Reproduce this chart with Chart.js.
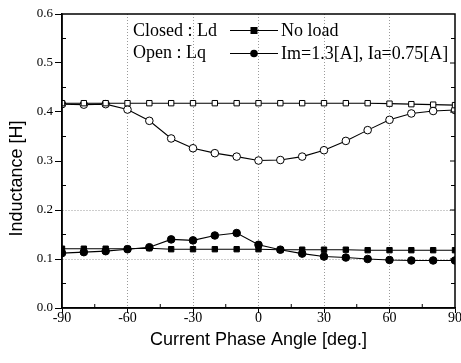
<!DOCTYPE html>
<html><head><meta charset="utf-8">
<script src="https://cdn.jsdelivr.net/npm/chart.js@4/dist/chart.umd.min.js"></script>
<style>html,body{margin:0;padding:0;background:#fff}</style>
</head><body>
<canvas id="c" width="461" height="363"></canvas>
<script>
// Current phase angle [deg.]
const angles = [-90,-80,-70,-60,-50,-40,-30,-20,-10,0,10,20,30,40,50,60,70,80,90];
// Ld (closed markers)
const ldNoLoad = [0.121,0.121,0.121,0.121,0.122,0.120,0.120,0.120,0.120,0.120,0.119,0.119,0.119,0.119,0.118,0.118,0.118,0.118,0.118];
const ldLoad   = [0.112,0.114,0.116,0.120,0.124,0.140,0.138,0.148,0.153,0.129,0.119,0.111,0.105,0.103,0.100,0.098,0.097,0.097,0.097];
// Lq (open markers)
const lqNoLoad = [0.418,0.418,0.418,0.418,0.418,0.418,0.418,0.418,0.418,0.418,0.418,0.418,0.418,0.418,0.418,0.417,0.416,0.415,0.414];
const lqLoad   = [0.416,0.415,0.416,0.405,0.382,0.346,0.326,0.316,0.309,0.301,0.302,0.309,0.322,0.341,0.363,0.384,0.397,0.402,0.404];
const xTicks = [-90,-60,-30,0,30,60,90];
const yTicks = [0.0,0.1,0.2,0.3,0.4,0.5,0.6];
const xGridAt = [-60,-30,0,30,60];
const yGridAt = [0.1,0.2];
const legendLabels = ['No load','Im=1.3[A], Ia=0.75[A]'];
const legendGroups = ['Closed : Ld','Open : Lq'];

const pts = arr => angles.map((a,i)=>({x:a,y:arr[i]}));
function ds(label, arr, style, filled){
  return {label, data: pts(arr), borderColor:'#000', borderWidth:1.1, tension:0,
    pointStyle: style, pointRadius: 3.8, pointBorderWidth:1,
    pointBorderColor:'#000', pointBackgroundColor: filled?'#000':'#fff', fill:false};
}

const deco = {
  id:'deco',
  afterDraw(chart){
    const ctx = chart.ctx, a = chart.chartArea, xs = chart.scales.x, ys = chart.scales.y;
    ctx.save();
    ctx.strokeStyle = '#000'; ctx.lineWidth = 1.5;
    ctx.strokeRect(a.left, a.top, a.right-a.left, a.bottom-a.top);
    ctx.lineWidth = 1;
    ctx.beginPath();
    for (let v=-75; v<90; v+=30){ const p = xs.getPixelForValue(v); ctx.moveTo(p,a.bottom); ctx.lineTo(p,a.bottom-4); }
    for (let k=1;k<12;k+=2){ const v=k*0.05; const p = ys.getPixelForValue(v);
      ctx.moveTo(a.left,p); ctx.lineTo(a.left+4,p); ctx.moveTo(a.right,p); ctx.lineTo(a.right-4,p); }
    for (let k=1;k<6;k++){ const p = ys.getPixelForValue(k*0.1); ctx.moveTo(a.right,p); ctx.lineTo(a.right-5,p); }
    ctx.stroke();
    // legend
    ctx.fillStyle = '#000';
    ctx.font = '18px "Liberation Serif"';
    ctx.textBaseline = 'alphabetic';
    ctx.fillText(legendGroups[0], 133, 35.5);
    ctx.fillText(legendGroups[1], 133, 58);
    ctx.fillText(legendLabels[0], 281, 36);
    ctx.fillText(legendLabels[1], 281, 59);
    ctx.lineWidth = 1;
    ctx.beginPath(); ctx.moveTo(230,30.5); ctx.lineTo(278,30.5); ctx.moveTo(230,53.5); ctx.lineTo(278,53.5); ctx.stroke();
    ctx.fillRect(250.5,27,7,7);
    ctx.beginPath(); ctx.arc(254,53.5,3.8,0,Math.PI*2); ctx.fill();
    ctx.restore();
  }
};

new Chart(document.getElementById('c'), {
  type:'line',
  data:{ datasets:[
    ds('Ld No load', ldNoLoad, 'rect', true),
    ds('Ld Im=1.3[A], Ia=0.75[A]', ldLoad, 'circle', true),
    ds('Lq No load', lqNoLoad, 'rect', false),
    ds('Lq Im=1.3[A], Ia=0.75[A]', lqLoad, 'circle', false)
  ]},
  options:{
    responsive:false, animation:false, devicePixelRatio:1,
    layout:{padding:{top:14,right:6,left:0,bottom:0}},
    plugins:{legend:{display:false}, tooltip:{enabled:false}},
    scales:{
      x:{type:'linear', min:-90, max:90,
        afterBuildTicks(s){ s.ticks = xTicks.map(v=>({value:v})); },
        afterFit(s){ s.height = 55; s.paddingLeft = 0; s.paddingRight = 0; },
        ticks:{color:'#000', font:{family:'"Liberation Serif"', size:14}, padding:-3, maxRotation:0, autoSkip:false},
        grid:{color:c=> xGridAt.includes(c.tick && c.tick.value) ? '#9a9a9a' : 'rgba(0,0,0,0)', tickColor:'#000', tickLength:5, lineWidth:1},
        border:{color:'#000', width:1.5, dash:[1,2]},
        title:{display:true, text:'Current Phase Angle [deg.]', color:'#000', font:{family:'"Liberation Sans"', size:18}, padding:{top:0,bottom:12}}
      },
      y:{type:'linear', min:0, max:0.6,
        afterBuildTicks(s){ s.ticks = yTicks.map(v=>({value:v})); },
        afterFit(s){ s.width = 62; s.paddingTop = 0; s.paddingBottom = 0; },
        ticks:{color:'#000', font:{family:'"Liberation Serif"', size:13}, padding:2, callback:v=>Number(v).toFixed(1)},
        grid:{color:c=> yGridAt.some(g=>Math.abs(g-(c.tick?c.tick.value:-1))<1e-9) ? '#9a9a9a' : 'rgba(0,0,0,0)', tickColor:'#000', tickLength:7, lineWidth:1},
        border:{color:'#000', width:1.5, dash:[1,2]},
        title:{display:true, text:'Inductance [H]       ', color:'#000', font:{family:'"Liberation Sans"', size:18}, padding:{top:6,bottom:0}}
      }
    }
  },
  plugins:[deco]
});
</script>
</body></html>
